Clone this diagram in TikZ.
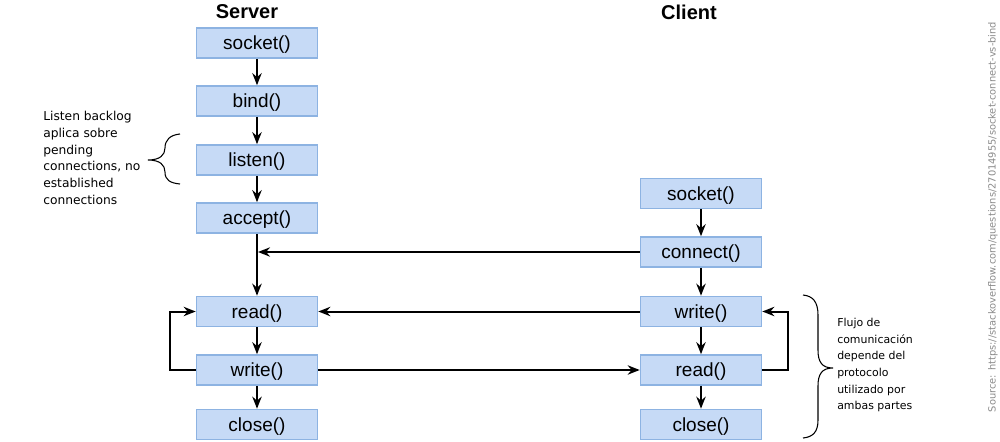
\documentclass[tikz,border=0pt]{standalone}
\usepackage{fontspec}
\setmainfont{Liberation Sans}
\newfontfamily\notefont{DejaVu Sans}
\usetikzlibrary{arrows.meta}
\definecolor{boxfill}{HTML}{C6DAF6}
\definecolor{boxline}{HTML}{8DB3E2}
\definecolor{srcgray}{HTML}{8A8A8A}
\tikzset{
  fn/.style={draw=boxline, line width=1.2pt, fill=boxfill, minimum width=90.75pt, minimum height=22.5pt, inner sep=0pt, text height=13pt, text depth=3pt, font=\fontsize{14.25}{16}\selectfont},
  title/.style={font=\fontsize{15}{17}\selectfont\bfseries},
  flow/.style={line width=1.5pt, -{Stealth[length=9pt,width=7pt]}},
  note/.style={align=left, inner sep=0pt, anchor=north west},
  bracepath/.style={line width=0.8pt}
}
\begin{document}
\begin{tikzpicture}[x=0.75pt,y=-0.75pt]
\useasboundingbox (0,0) rectangle (1000,442);
% titles
\node[title] (srv) at (247,12) {Server};
\node[title] (cli) at (689,12) {Client};
% server column
\node[fn] (ssock) at (257,43) {socket()};
\node[fn] (sbind) at (257,101) {bind()};
\node[fn] (slist) at (257,160) {listen()};
\node[fn] (sacc) at (257,218) {accept()};
\node[fn] (sread) at (257,311.5) {read()};
\node[fn] (swrite) at (257,370) {write()};
\node[fn] (sclose) at (257,424.5) {close()};
% client column
\node[fn] (csock) at (701,193.5) {socket()};
\node[fn] (ccon) at (701,252) {connect()};
\node[fn] (cwrite) at (701,311.5) {write()};
\node[fn] (cread) at (701,370) {read()};
\node[fn] (cclose) at (701,424.5) {close()};
% server arrows
\draw[flow] (ssock) -- (sbind);
\draw[flow] (sbind) -- (slist);
\draw[flow] (slist) -- (sacc);
\draw[flow] (sacc) -- (sread);
\draw[flow] (sread) -- (swrite);
\draw[flow] (swrite) -- (sclose);
% client arrows
\draw[flow] (csock) -- (ccon);
\draw[flow] (ccon) -- (cwrite);
\draw[flow] (cwrite) -- (cread);
\draw[flow] (cread) -- (cclose);
% cross arrows
\coordinate (join) at (sacc.south |- ccon.west);
\draw[flow] (ccon.west) -- ([xshift=0.75pt]join);
\draw[flow] (cwrite.west) -- (sread.east);
\draw[flow] (swrite.east) -- (cread.west);
% loops
\coordinate (sl) at (170,0);
\draw[flow] (swrite.west) -- (sl |- swrite.west) -- (sl |- sread.west) -- (sread.west);
\coordinate (cl) at (788,0);
\draw[flow] (cread.east) -- (cl |- cread.east) -- (cl |- cwrite.east) -- (cwrite.east);
% left brace
\coordinate (lbt) at (180,134);
\coordinate (lbb) at (180,184);
\coordinate (lbm) at (148,160);
\draw[bracepath] (lbt) .. controls (170,135) and (165,140) .. (165,148) .. controls (165,155) and (160,160) .. (lbm) .. controls (160,160) and (165,165) .. (165,172) .. controls (165,180) and (170,183) .. (lbb);
% right brace
\coordinate (rbt) at (803,295);
\coordinate (rbb) at (803,438);
\coordinate (rbm) at (833,368);
\draw[bracepath] (rbt) .. controls (813,296) and (818,302) .. (818,315) -- (818,350) .. controls (818,362) and (822,368) .. (rbm) .. controls (822,368) and (818,374) .. (818,386) -- (818,420) .. controls (818,432) and (813,437) .. (rbb);
% notes
\node[note, font=\notefont\fontsize{9.2}{12.6}\selectfont] (lnote) at (43,111) {Listen backlog\\aplica sobre\\pending\\connections, no\\established\\connections};
\node[note, font=\notefont\fontsize{8.2}{12.5}\selectfont] (rnote) at (837,318) {Flujo de\\comunicación\\depende del\\protocolo\\utilizado por\\ambas partes};
% source
\node[rotate=90, text=srcgray, inner sep=0pt, font=\notefont\fontsize{7.4}{8}\selectfont] (src) at (993,217) {Source: https://stackoverflow.com/questions/27014955/socket-connect-vs-bind};
\end{tikzpicture}
\end{document}
